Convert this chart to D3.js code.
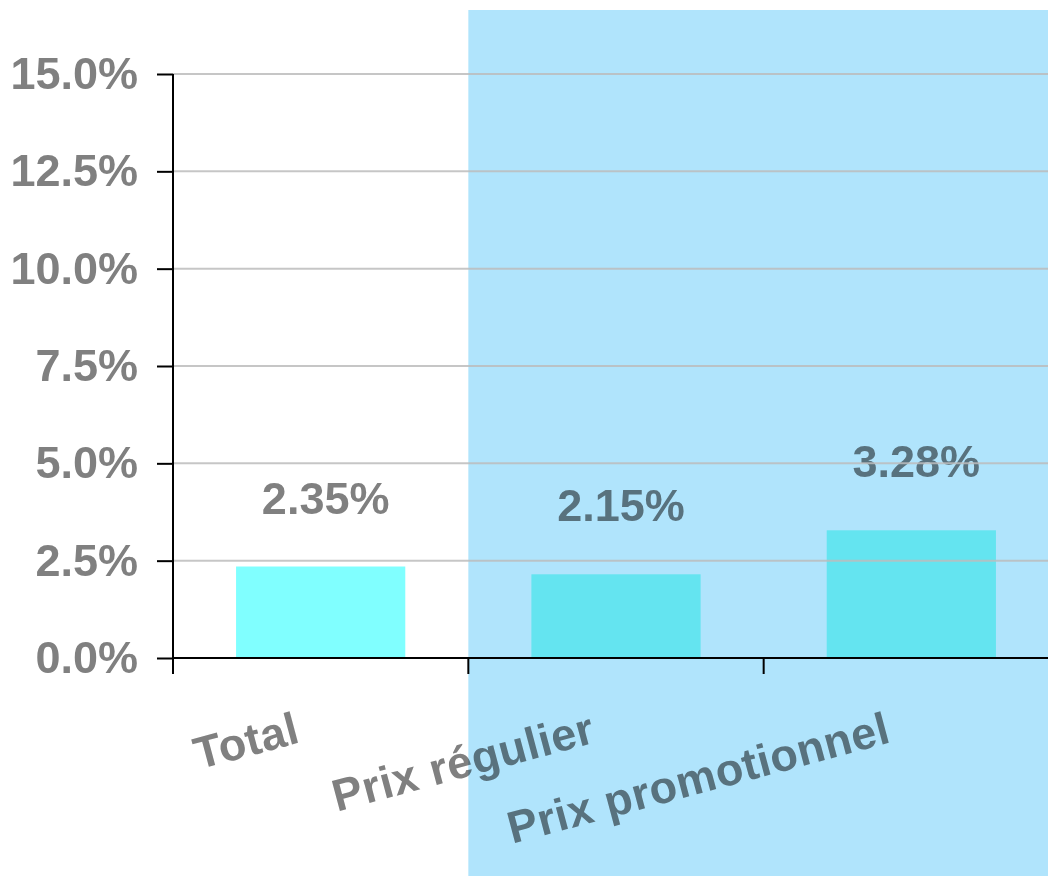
<!DOCTYPE html>
<html lang="fr">
<head>
<meta charset="utf-8">
<title>Prix régulier vs promotionnel</title>
<script src="https://d3js.org/d3.v7.min.js"></script>
<style>
  body { margin: 0; background: #fff; }
  svg { display: block; font-family: "Liberation Sans", Arial, sans-serif; font-weight: bold; }
</style>
</head>
<body>
<div id="chart"></div>
<script>
// Data
const categories = ["Total", "Prix régulier", "Prix promotionnel"];
const values = [2.35, 2.15, 3.28];
const yTicks = [0, 2.5, 5, 7.5, 10, 12.5, 15];

// Dimensions
const width = 1048;
const height = 876;
const margin = { top: 74, right: 0, bottom: 218, left: 173 };
const x0 = margin.left;
const x1 = 1059;
const yBase = height - margin.bottom;

const svg = d3.select("#chart").append("svg")
  .attr("width", width)
  .attr("height", height);

// Scales
const x = d3.scaleBand()
  .domain(categories)
  .range([x0, x1])
  .padding(0);

const y = d3.scaleLinear()
  .domain([0, 15])
  .range([yBase, margin.top]);

// bars under the highlight get a slightly greener base so the tint matches
const color = d3.scaleOrdinal()
  .domain(categories)
  .range(["#80ffff", "#91fff3", "#91fff3"]);

const barW = x.bandwidth() * 0.573;

// Bars
svg.selectAll(".bar")
  .data(values)
  .enter().append("rect")
  .attr("class", "bar")
  .attr("x", (d, i) => x(categories[i]) + (x.bandwidth() - barW) / 2)
  .attr("y", d => y(d))
  .attr("width", barW)
  .attr("height", d => y(0) - y(d))
  .style("fill", (d, i) => color(categories[i]));

// Value labels
svg.selectAll(".value")
  .data(values)
  .enter().append("text")
  .attr("class", "value")
  .attr("x", (d, i) => x(categories[i]) + x.bandwidth() / 2 + 5)
  .attr("y", d => y(d) - 53)
  .attr("text-anchor", "middle")
  .style("font-size", "45px")
  .style("fill", "#808080")
  .text(d => d.toFixed(2) + "%");

// Category labels
svg.selectAll(".cat")
  .data(categories)
  .enter().append("text")
  .attr("class", "cat")
  .attr("text-anchor", "end")
  .attr("transform", d => `translate(${x(d) + x.bandwidth() / 2 - 19}, 742) rotate(-15)`)
  .style("font-size", "45px")
  .style("letter-spacing", "0.5px")
  .style("fill", "#808080")
  .text(d => d);

// Highlight overlay (multiply so text/bars underneath take on the tint)
svg.append("rect")
  .attr("x", x(categories[1]))
  .attr("y", 10)
  .attr("width", width - x(categories[1]))
  .attr("height", height - 10)
  .style("fill", "#b0e4fc")
  .style("mix-blend-mode", "multiply");

// Gridlines
svg.append("g")
  .attr("class", "grid")
  .selectAll("line")
  .data(yTicks.filter(d => d > 0))
  .enter().append("line")
  .attr("x1", x0)
  .attr("x2", width)
  .attr("y1", d => y(d))
  .attr("y2", d => y(d))
  .style("stroke", "#bcbcbc")
  .style("stroke-opacity", 0.85)
  .style("stroke-width", 2);

// Y axis
const yAxis = svg.append("g")
  .attr("transform", `translate(${x0},0)`)
  .call(d3.axisLeft(y)
    .tickValues(yTicks)
    .tickSize(16)
    .tickPadding(19)
    .tickFormat(d => d.toFixed(1) + "%"));

yAxis.select(".domain").remove();
yAxis.selectAll(".tick line").style("stroke", "#000").style("stroke-width", 2);
yAxis.selectAll(".tick text")
  .style("font-size", "45px")
  .style("font-family", "'Liberation Sans', Arial, sans-serif")
  .style("font-weight", "bold")
  .style("fill", "#808080");

svg.append("line")
  .attr("x1", x0).attr("x2", x0)
  .attr("y1", margin.top).attr("y2", yBase + 16)
  .style("stroke", "#000").style("stroke-width", 2);

// X axis
svg.append("line")
  .attr("x1", x0).attr("x2", width)
  .attr("y1", yBase).attr("y2", yBase)
  .style("stroke", "#000").style("stroke-width", 2);

svg.selectAll(".xtick")
  .data(categories)
  .enter().append("line")
  .attr("class", "xtick")
  .attr("x1", d => x(d)).attr("x2", d => x(d))
  .attr("y1", yBase).attr("y2", yBase + 16)
  .style("stroke", "#000").style("stroke-width", 2);
</script>
</body>
</html>
